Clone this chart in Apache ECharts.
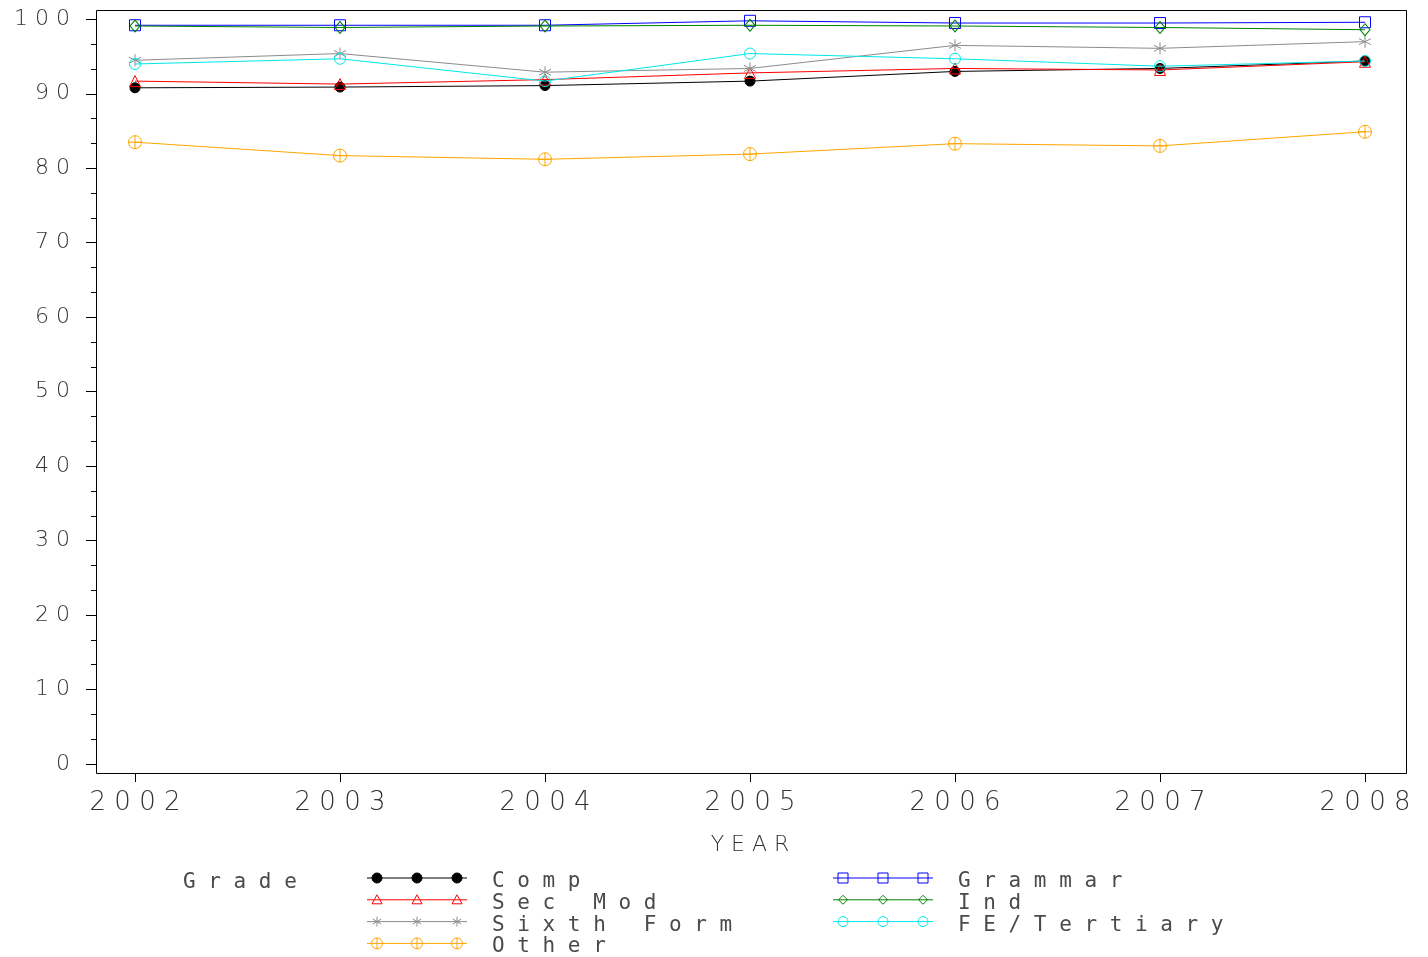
<!DOCTYPE html>
<html>
<head>
<meta charset="utf-8">
<script src="https://cdn.jsdelivr.net/npm/echarts@6/dist/echarts.min.js"></script>
<style>
html,body{margin:0;padding:0;background:#fff;}
#chart{width:1428px;height:957px;}
</style>
</head>
<body>
<div id="chart"></div>
<script>
const years = ['2002', '2003', '2004', '2005', '2006', '2007', '2008'];
const comp      = [90.8, 90.9, 91.1, 91.7, 93.0, 93.4, 94.4];
const secMod    = [91.7, 91.3, 91.9, 92.8, 93.4, 93.2, 94.3];
const sixthForm = [94.5, 95.4, 92.9, 93.4, 96.5, 96.1, 97.0];
const other     = [83.5, 81.7, 81.2, 81.9, 83.3, 83.0, 84.9];
const grammar   = [99.2, 99.2, 99.2, 99.8, 99.5, 99.5, 99.6];
const ind       = [99.1, 98.9, 99.1, 99.2, 99.1, 98.9, 98.6];
const feTertiary= [94.0, 94.7, 91.7, 95.4, 94.7, 93.7, 94.4];
const seriesNames = ['Comp', 'Sec Mod', 'Sixth Form', 'Other', 'Grammar', 'Ind', 'FE/Tertiary'];
const legendTitle = 'Grade';
const xAxisName = 'YEAR';

const FONT = '"DejaVu Sans", "Liberation Sans", sans-serif';
const MONO = '"DejaVu Sans Mono", "Liberation Mono", monospace';
const TXT = '#333333';
const LEG_TXT = '#4a4a4a';
const spaced = s => String(s).split('').join(' ');

const styles = [
  {color:'#000000', symbol:'circle', size:10, fill:'#000000'},
  {color:'#ff0000', symbol:'triangle', size:11, fill:'rgba(0,0,0,0)'},
  {color:'#8c8c8c', symbol:'path://M5,0L5,10M0.67,2.5L9.33,7.5M0.67,7.5L9.33,2.5', size:12, fill:'rgba(0,0,0,0)'},
  {color:'#ffa500', symbol:'path://M0,6A6,6,0,1,1,12,6A6,6,0,1,1,0,6ZM0,6L12,6M6,0L6,12', size:13, fill:'rgba(0,0,0,0)'},
  {color:'#0000ff', symbol:'rect', size:11, fill:'rgba(0,0,0,0)'},
  {color:'#008000', symbol:'diamond', size:[10,12], fill:'rgba(0,0,0,0)'},
  {color:'#00e8e8', symbol:'circle', size:11, fill:'rgba(0,0,0,0)'}
];
const dataSets = [comp, secMod, sixthForm, other, grammar, ind, feTertiary];

const series = dataSets.map((d, i) => ({
  name: seriesNames[i],
  type: 'line',
  data: d,
  symbol: styles[i].symbol,
  symbolSize: styles[i].size,
  showAllSymbol: true,
  lineStyle: {color: styles[i].color, width: 1},
  itemStyle: {color: styles[i].fill, borderColor: styles[i].color, borderWidth: 1},
  emphasis: {disabled: true},
  z: 3 + i
}));

// legend built from the series arrays
const legendEls = [];
legendEls.push({type:'text', x: 183, y: 872, style:{text: spaced(legendTitle), font: '21px ' + MONO, fill: LEG_TXT}});
function markerEl(i, cx, cy) {
  const c = styles[i].color;
  const st = {stroke: c, lineWidth: 1, fill: 'none'};
  switch (i) {
    case 0: return {type:'circle', shape:{cx, cy, r:5}, style:{fill:c, stroke:c}};
    case 1: return {type:'polygon', shape:{points:[[cx,cy-5],[cx+5,cy+4],[cx-5,cy+4]]}, style:st};
    case 2: return {type:'group', children:[
      {type:'line', shape:{x1:cx, y1:cy-5, x2:cx, y2:cy+5}, style:st},
      {type:'line', shape:{x1:cx-4.3, y1:cy-2.5, x2:cx+4.3, y2:cy+2.5}, style:st},
      {type:'line', shape:{x1:cx-4.3, y1:cy+2.5, x2:cx+4.3, y2:cy-2.5}, style:st}]};
    case 3: return {type:'group', children:[
      {type:'circle', shape:{cx, cy, r:5.5}, style:st},
      {type:'line', shape:{x1:cx, y1:cy-5.5, x2:cx, y2:cy+5.5}, style:st}]};
    case 4: return {type:'rect', shape:{x:cx-5, y:cy-5, width:10, height:10}, style:st};
    case 5: return {type:'polygon', shape:{points:[[cx,cy-4.5],[cx+4.5,cy],[cx,cy+4.5],[cx-4.5,cy]]}, style:st};
    default: return {type:'circle', shape:{cx, cy, r:5}, style:st};
  }
}
const colX = [367, 833];
const rowY0 = 878, rowDY = 21.8;
seriesNames.forEach((name, i) => {
  const col = i < 4 ? 0 : 1;
  const row = i < 4 ? i : i - 4;
  const x0 = colX[col];
  const y = rowY0 + row * rowDY;
  legendEls.push({type:'line', shape:{x1:x0, y1:y, x2:x0+100, y2:y}, style:{stroke: styles[i].color, lineWidth: 1}});
  [10, 50, 90].forEach(dx => legendEls.push(markerEl(i, x0 + dx, y)));
  legendEls.push({type:'text', x: x0 + 125, y: y - 7, style:{text: spaced(name), font: '21px ' + MONO, fill: LEG_TXT}});
});

const chart = echarts.init(document.getElementById('chart'), null, {renderer: 'canvas'});
chart.setOption({
  animation: false,
  backgroundColor: '#ffffff',
  grid: {left: 135, right: 63, top: 19.3, bottom: 193, containLabel: false},
  xAxis: {
    type: 'category',
    data: years,
    boundaryGap: false,
    offset: 9,
    name: spaced(xAxisName),
    nameLocation: 'middle',
    nameGap: 61,
    nameTextStyle: {fontFamily: FONT, fontWeight: 200, fontSize: 22, color: TXT},
    axisLine: {onZero: false, lineStyle: {color: '#000', width: 1}},
    axisTick: {show: true, length: 9, lineStyle: {color: '#000'}},
    axisLabel: {margin: 17, fontFamily: FONT, fontWeight: 200, fontSize: 26, color: TXT, formatter: v => spaced(v)},
    splitLine: {show: false}
  },
  yAxis: {
    type: 'value',
    min: 0, max: 100, interval: 10,
    offset: 39,
    axisLine: {show: true, onZero: false, lineStyle: {color: '#000', width: 1}},
    axisTick: {show: true, length: 10, lineStyle: {color: '#000'}},
    minorTick: {show: true, splitNumber: 3, length: 5, lineStyle: {color: '#000'}},
    axisLabel: {margin: 26, fontFamily: FONT, fontWeight: 200, fontSize: 22, color: TXT, formatter: v => spaced(v)},
    splitLine: {show: false},
    minorSplitLine: {show: false}
  },
  graphic: {elements: [
    {type:'rect', shape:{x:96.5, y:10.5, width:1310, height:763}, style:{fill:'none', stroke:'#000', lineWidth:1}, z: 1, silent: true}
  ].concat(legendEls)},
  series: series
});
</script>
</body>
</html>
